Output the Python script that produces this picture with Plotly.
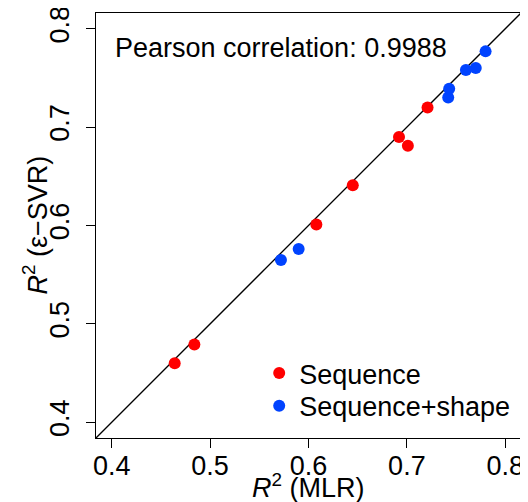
import plotly.graph_objects as go

# R^2 values
seq_mlr = [0.464, 0.484, 0.608, 0.645, 0.692, 0.701, 0.721]
seq_svr = [0.460, 0.479, 0.601, 0.641, 0.690, 0.681, 0.720]
shape_mlr = [0.572, 0.590, 0.742, 0.743, 0.760, 0.770, 0.780]
shape_svr = [0.565, 0.576, 0.730, 0.739, 0.758, 0.760, 0.777]

tick_vals = [0.4, 0.5, 0.6, 0.7, 0.8]
tick_text = ["0.4", "0.5", "0.6", "0.7", "0.8"]
axis_range = [0.384, 0.816]
pearson_text = "Pearson correlation: 0.9988"
x_title = "<i>R</i><sup>2</sup> (MLR)"
y_title = "<i>R</i><sup>2</sup> (\u03b5\u2212SVR)"

FONT = "Liberation Sans, Arial, sans-serif"
FS = 27

fig = go.Figure()
fig.add_trace(go.Scatter(x=axis_range, y=axis_range, mode="lines",
                         line=dict(color="black", width=1.3),
                         showlegend=False, hoverinfo="skip"))
fig.add_trace(go.Scatter(x=seq_mlr, y=seq_svr, mode="markers", name="Sequence",
                         marker=dict(color="#ff0000", size=12), legend="legend"))
fig.add_trace(go.Scatter(x=shape_mlr, y=shape_svr, mode="markers", name="Sequence+shape",
                         marker=dict(color="#0043ff", size=12), legend="legend2"))

axis_common = dict(range=axis_range, tickvals=tick_vals, ticktext=tick_text,
                   ticks="outside", ticklen=9, tickwidth=1.3, tickcolor="black",
                   showline=True, linecolor="black", linewidth=1.3, mirror=True,
                   showgrid=False, zeroline=False, automargin=False,
                   ticklabeloverflow="allow",
                   tickfont=dict(family=FONT, size=FS, color="black"))

legend_common = dict(xanchor="left", yanchor="top", bgcolor="rgba(0,0,0,0)",
                     font=dict(family=FONT, size=FS, color="black"))

# the page body adds an 8px offset, so the figure is 8px smaller than the window
fig.update_layout(
    width=520, height=494,
    margin=dict(l=88, r=7, t=5, b=64),
    paper_bgcolor="white", plot_bgcolor="white",
    font=dict(family=FONT, size=FS, color="black"),
    xaxis=dict(**axis_common, ticklabelstandoff=-6),
    yaxis=dict(**axis_common, tickangle=-90, ticklabelstandoff=6),
    legend=dict(x=0.384, y=0.2094, **legend_common),
    legend2=dict(x=0.384, y=0.1325, **legend_common),
    annotations=[
        dict(text=pearson_text, xref="paper", yref="paper",
             x=0.040, y=0.917, xanchor="left", yanchor="middle",
             showarrow=False, font=dict(family=FONT, size=FS, color="black")),
        dict(text=x_title, xref="paper", yref="paper",
             x=0.5, y=-0.113, xanchor="center", yanchor="middle",
             showarrow=False, font=dict(family=FONT, size=FS, color="black")),
        dict(text=y_title, xref="paper", yref="paper", textangle=-90,
             x=-0.1435, y=0.5, xanchor="center", yanchor="middle",
             showarrow=False, font=dict(family=FONT, size=FS, color="black")),
    ],
)

fig.write_html("out.html")
